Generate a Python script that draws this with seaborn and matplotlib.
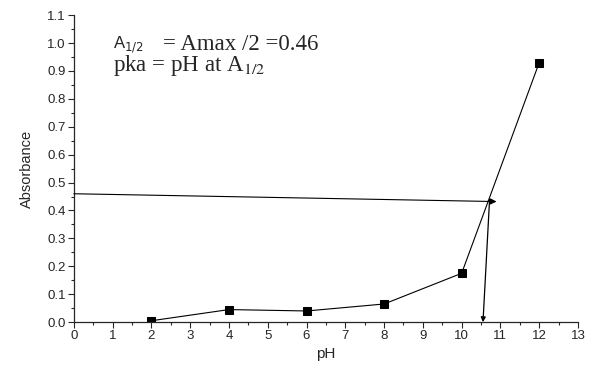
import numpy as np
import pandas as pd
import matplotlib
matplotlib.use('Agg')
import matplotlib.pyplot as plt
import seaborn as sns
from matplotlib.ticker import MultipleLocator

# Absorbance vs pH readings
ph = [2, 4, 6, 8, 10, 12]
absorbance = [0.005, 0.045, 0.04, 0.065, 0.175, 0.93]

# half-absorbance construction lines
half_start = (0.0, 0.46)
half_end = (10.9, 0.432)
pka_start = (10.72, 0.44)
pka_end = (10.55, 0.0)

df = pd.DataFrame({'pH': ph, 'Absorbance': absorbance})

sns.set_style('ticks')
plt.rcParams['font.family'] = ['Liberation Sans', 'DejaVu Sans']

fig = plt.figure(figsize=(5.91, 3.69), dpi=100)
ax = fig.add_axes([0.125, 0.127, 0.853, 0.832])

sns.lineplot(data=df, x='pH', y='Absorbance', ax=ax, color='black', lw=0.8,
             marker='s', markersize=5.5, markeredgecolor='black', markerfacecolor='black')

# arrows
ax.annotate('', xy=half_end, xytext=half_start,
            arrowprops=dict(arrowstyle='-|>', color='black', lw=0.8, mutation_scale=9,
                            shrinkA=0, shrinkB=0))
ax.annotate('', xy=pka_end, xytext=pka_start,
            arrowprops=dict(arrowstyle='-|>', color='black', lw=0.9, mutation_scale=7,
                            shrinkA=0, shrinkB=0))

ax.set_xlim(0, 13)
ax.set_ylim(0, 1.1)
ax.xaxis.set_major_locator(MultipleLocator(1))
ax.xaxis.set_minor_locator(MultipleLocator(0.5))
ax.yaxis.set_major_locator(MultipleLocator(0.1))
ax.yaxis.set_minor_locator(MultipleLocator(0.05))
ax.yaxis.set_major_formatter(matplotlib.ticker.FormatStrFormatter('%.1f'))
ax.tick_params(which='major', length=4, width=0.8, labelsize=9.5, direction='out', pad=2)
ax.tick_params(which='minor', length=2.5, width=0.8, direction='out')
for s in ['left', 'bottom']:
    ax.spines[s].set_linewidth(0.9)
sns.despine(ax=ax)

ax.set_xlabel('pH', fontsize=11, labelpad=3)
ax.set_ylabel('Absorbance', fontsize=10.5, labelpad=9)

# annotation text
ax.text(1.0, 0.995, r'A$_{1/2}$', fontsize=12, family='Liberation Sans', va='center')
ax.text(2.3, 0.995, '= Amax /2 =0.46', fontsize=16.5, family='Liberation Serif', va='center')
ax.text(1.0, 0.92, r'pka = pH at A$_{1/2}$', fontsize=16.5, family='Liberation Serif',
        va='center', math_fontfamily='stix')

fig.savefig('out.png', dpi=100)
